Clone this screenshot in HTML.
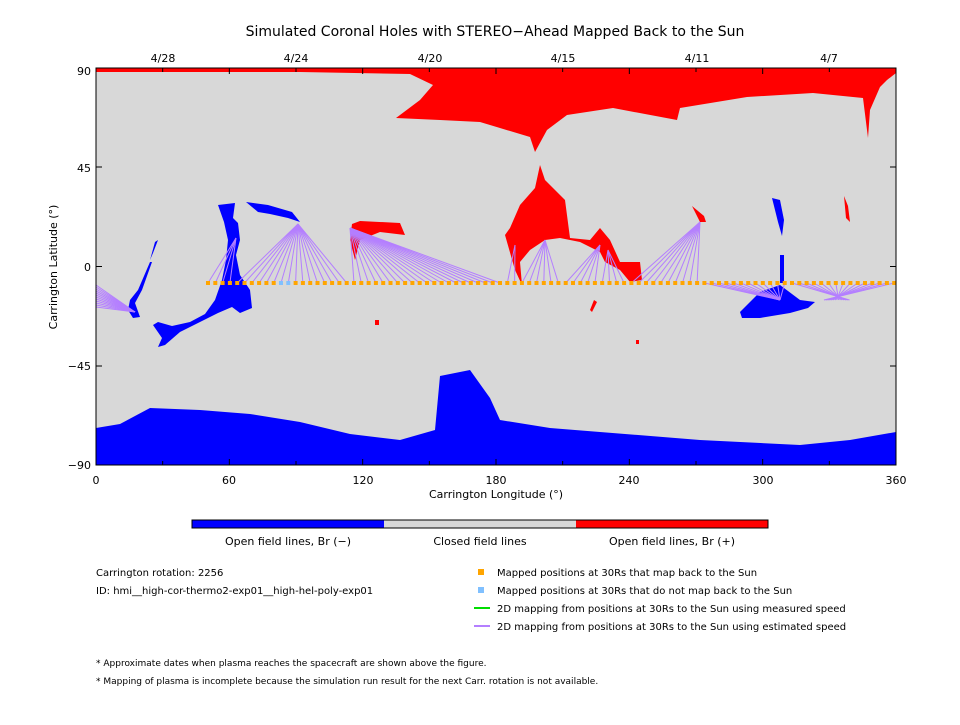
<!DOCTYPE html>
<html><head><meta charset="utf-8"><style>
body{margin:0;background:#fff;width:960px;height:720px;overflow:hidden}
svg text{font-family:"DejaVu Sans","Liberation Sans",sans-serif;fill:#000}
</style></head><body>
<svg id="s" width="960" height="720" xmlns="http://www.w3.org/2000/svg">
<text x="495" y="36" font-size="14" text-anchor="middle">Simulated Coronal Holes with STEREO−Ahead Mapped Back to the Sun</text>
<rect x="96" y="68" width="800" height="397" fill="#d8d8d8"/>
<polygon fill="#ff0000" points="96,68 896,68 896,73 887,80 880,87 870,110 868,138 863,98 813,93 747,97 680,108 677,120 613,108 567,115 547,130 535,152 530,137 480,122 440,120 396,118 420,100 433,85 410,74 300,72 180,72 96,72"/>
<polygon fill="#0000ff" points="96,428 120,424 150,408 200,410 250,414 300,422 350,434 400,440 435,430 440,376 470,370 490,398 500,420 550,428 600,432 700,440 800,445 850,440 896,432 896,465 96,465"/>
<polygon fill="#0000ff" points="218,205 235,203 233,218 238,223 240,240 236,255 240,275 250,290 252,308 240,313 232,307 218,313 200,322 180,332 165,345 158,347 162,338 153,325 158,322 172,326 190,322 205,314 215,300 222,280 226,260 228,240 224,222"/>
<polygon fill="#0000ff" points="246,202 268,205 292,212 300,222 288,218 270,214 258,212"/>
<polygon fill="#0000ff" points="155,242 158,240 153,253 150,260"/>
<polygon fill="#0000ff" points="150,262 152,262 142,290 135,303 140,317 133,318 128,310 130,300 138,290"/>
<polygon fill="#0000ff" points="740,312 760,292 780,285 800,300 815,302 808,308 790,313 760,318 742,318"/>
<polygon fill="#0000ff" points="772,198 780,200 784,220 782,236 778,222"/>
<rect x="780" y="255" width="4" height="28" fill="#0000ff"/>
<polygon fill="#ff0000" points="352,224 360,221 400,223 405,235 380,232 360,240 355,260 350,240"/>
<polygon fill="#ff0000" points="540,165 545,180 565,200 570,238 590,240 600,228 610,240 620,262 640,262 642,280 630,282 620,270 605,262 600,252 580,242 560,238 545,240 530,250 520,262 522,285 515,270 505,235 510,228 520,205 535,188"/>
<polygon fill="#ff0000" points="692,206 704,216 706,222 700,222"/>
<polygon fill="#ff0000" points="844,196 848,206 850,222 846,218"/>
<polygon fill="#ff0000" points="594,300 597,302 592,312 590,310"/>
<rect x="375" y="320" width="4" height="5" fill="#ff0000"/>
<rect x="636" y="340" width="3" height="4" fill="#ff0000"/>
<g id="lines" stroke="#b47fff" stroke-width="1" fill="none"></g>
<g id="dots"></g>
<rect x="96" y="68" width="800" height="397" fill="none" stroke="#000" stroke-width="1"/>
<g id="ticks" stroke="#000" stroke-width="1"></g>
<g font-size="11" text-anchor="middle">
<text x="96" y="484">0</text><text x="229" y="484">60</text><text x="363" y="484">120</text><text x="496" y="484">180</text><text x="629" y="484">240</text><text x="763" y="484">300</text><text x="896" y="484">360</text>
<text x="496" y="498">Carrington Longitude (°)</text>
<text x="163" y="62">4/28</text><text x="296" y="62">4/24</text><text x="430" y="62">4/20</text><text x="563" y="62">4/15</text><text x="697" y="62">4/11</text><text x="829" y="62">4/7</text>
</g>
<g font-size="11" text-anchor="end">
<text x="91" y="75">90</text><text x="91" y="172">45</text><text x="91" y="271">0</text><text x="91" y="370">−45</text><text x="91" y="469">−90</text>
</g>
<text transform="translate(57,267) rotate(-90)" font-size="11" text-anchor="middle">Carrington Latitude (°)</text>
<rect x="192" y="520" width="192" height="8" fill="#0000ff"/>
<rect x="384" y="520" width="192" height="8" fill="#d8d8d8"/>
<rect x="576" y="520" width="192" height="8" fill="#ff0000"/>
<rect x="192" y="520" width="576" height="8" fill="none" stroke="#000"/>
<g font-size="11" text-anchor="middle">
<text x="288" y="545">Open field lines, Br (−)</text><text x="480" y="545">Closed field lines</text><text x="672" y="545">Open field lines, Br (+)</text>
</g>
<g font-size="10">
<text x="96" y="576">Carrington rotation: 2256</text>
<text x="96" y="594">ID: hmi__high-cor-thermo2-exp01__high-hel-poly-exp01</text>
<text x="497" y="576">Mapped positions at 30Rs that map back to the Sun</text>
<text x="497" y="594">Mapped positions at 30Rs that do not map back to the Sun</text>
<text x="497" y="612">2D mapping from positions at 30Rs to the Sun using measured speed</text>
<text x="497" y="630">2D mapping from positions at 30Rs to the Sun using estimated speed</text>
<text x="96" y="666" font-size="9">* Approximate dates when plasma reaches the spacecraft are shown above the figure.</text>
<text x="96" y="684" font-size="9">* Mapping of plasma is incomplete because the simulation run result for the next Carr. rotation is not available.</text>
</g>
<rect x="478" y="569" width="6" height="6" fill="#ffa500"/>
<rect x="478" y="587" width="6" height="6" fill="#80c0ff"/>
<line x1="474" y1="608" x2="490" y2="608" stroke="#00dd00" stroke-width="2"/>
<line x1="474" y1="626" x2="490" y2="626" stroke="#b47fff" stroke-width="2"/>
</svg>
<script>
var NS="http://www.w3.org/2000/svg";
function el(p,t,a){var e=document.createElementNS(NS,t);for(var k in a)e.setAttribute(k,a[k]);p.appendChild(e);}
var L=document.getElementById('lines'),D=document.getElementById('dots'),T=document.getElementById('ticks');
var y0=283,xs=[];for(var x=208;x<=896;x+=7.3)xs.push(x);
function tgt(x){
 if(x<232)return[236,238];
 if(x<300)return[298,224];
 if(x<350)return[298,224];
 if(x<505)return[350,228];
 if(x<520)return[515,245];
 if(x<560)return[545,240];
 if(x<600)return[600,245];
 if(x<625)return[608,250];
 if(x<700)return[700,222];
 if(x<790)return[780,300];
 return[850-((x-790)/4),300];
}
xs.forEach(function(x){var t=tgt(x);el(L,'line',{x1:x,y1:y0,x2:t[0],y2:t[1]});});
for(var i=0;i<12;i++)el(L,'line',{x1:96,y1:285+i*2,x2:135,y2:312});
xs.forEach(function(x,i){var c=(Math.abs(x-281)<4||Math.abs(x-288)<4)?'#80c0ff':'#ffa500';el(D,'rect',{x:x-2,y:y0-2,width:4,height:4,fill:c});});
for(var lo=0;lo<=360;lo+=30){var px=96+lo*800/360,len=lo%60==0?6:4;
 el(T,'line',{x1:px,y1:465,x2:px,y2:465-len});el(T,'line',{x1:px,y1:68,x2:px,y2:68+len});}
[68,167,266.5,366,465].forEach(function(y){el(T,'line',{x1:96,y1:y,x2:102,y2:y});el(T,'line',{x1:896,y1:y,x2:890,y2:y});});
</script>
</body></html>
